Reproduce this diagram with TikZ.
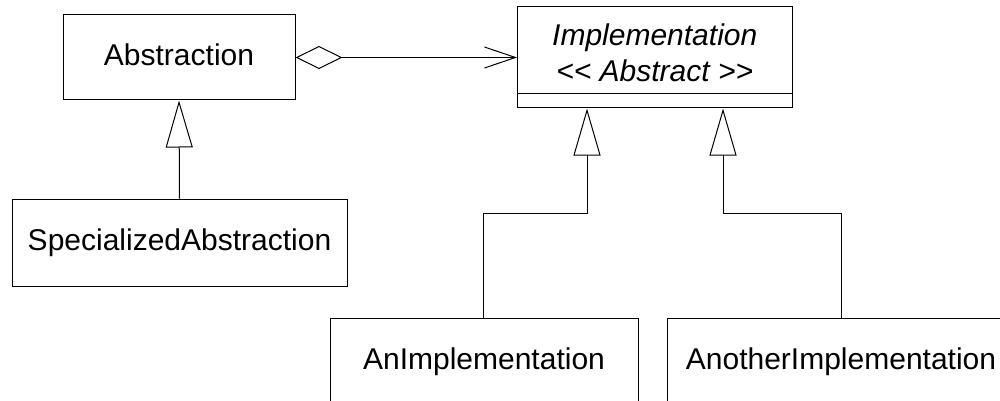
\documentclass[tikz,border=0pt]{standalone}
\usepackage{fontspec}
\setmainfont{Liberation Sans}
\usetikzlibrary{arrows.meta}
\begin{document}
\begin{tikzpicture}[x=1pt,y=-1pt,line width=1pt,
  classbox/.style={draw=black, rectangle, inner sep=0pt,
    font=\fontsize{30}{36}\selectfont, text height=22pt, text depth=6pt},
  lbl/.style={inner sep=0pt, font=\fontsize{30}{36}\selectfont\itshape, anchor=base},
  gen/.style={draw=black, -{Triangle[open, length=47pt, width=27pt]}},
  assoc/.style={draw=black, {Diamond[open, length=47pt, width=23pt]}-{Straight Barb[length=31pt, width=21pt]}}]
\useasboundingbox (0,0) rectangle (1000,401);
\clip (0,0) rectangle (1000,401);
% classes
\node[classbox, minimum width=232pt, minimum height=85pt] (abs) at (179,57.5) {Abstraction};
\node[classbox, minimum width=335pt, minimum height=87pt] (spec) at (179.5,242.5) {SpecializedAbstraction};
\node[classbox, minimum width=274.5pt, minimum height=101pt] (impl) at (654.75,57.5) {};
\draw (impl.west |- 0,94) -- (impl.east |- 0,94);
\node[lbl] (impltitle) at (654.75,45.7) {Implementation};
\node[lbl] (implstereo) at (654.75,81.7) {<{}< Abstract >{}>};
\node[classbox, minimum width=308pt, minimum height=87pt] (an) at (484,361.5) {AnImplementation};
\node[classbox, minimum width=348pt, minimum height=87pt] (ao) at (841,361.5) {AnotherImplementation};
% bend points
\coordinate (k1) at (483,213);
\coordinate (k2) at (587,213);
\coordinate (k3) at (841,213);
\coordinate (k4) at (723,213);
% connectors
\draw[assoc] (abs.east) -- (impl.west);
\draw[gen] (spec.north) -- (abs.south);
\draw[gen] (an.north -| k1) -- (k1) -- (k2) -- (k2 |- impl.south);
\draw[gen] (ao.north -| k3) -- (k3) -- (k4) -- (k4 |- impl.south);
\end{tikzpicture}
\end{document}
